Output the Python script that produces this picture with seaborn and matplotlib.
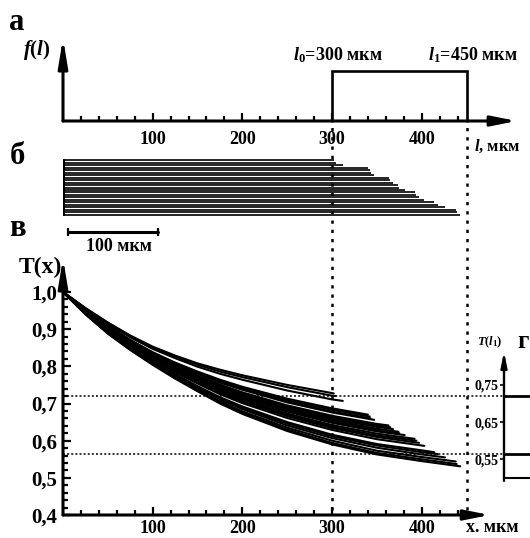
import matplotlib
matplotlib.use("Agg")
import matplotlib.pyplot as plt
import numpy as np
import pandas as pd
import seaborn as sns

sns.set_theme(style="white")
plt.rcParams["font.family"] = ["Liberation Serif", "DejaVu Serif"]
plt.rcParams["font.weight"] = "bold"
plt.rcParams["mathtext.fontset"] = "custom"
plt.rcParams["mathtext.rm"] = "Liberation Serif:bold"
plt.rcParams["mathtext.it"] = "Liberation Serif:italic:bold"
plt.rcParams["mathtext.bf"] = "Liberation Serif:bold"
for key in ("text.color", "axes.labelcolor", "xtick.color", "ytick.color"):
    plt.rcParams[key] = "black"

# ---------------------------------------------------------------- data
# uniform length distribution f(l) between l0 and l1 (micrometres)
l0, l1 = 300, 450
f_level = 1.0

# fibre lengths, shortest first (micrometres)
fiber_lengths = [302, 304, 312, 340, 342, 343, 347, 363, 365, 368, 374, 375,
                 381, 392, 394, 397, 403, 414, 418, 426, 438, 439, 443]

# sampling positions along a fibre; each fibre also has a sample at its own end
x_grid = [0, 25, 50, 75, 100, 125, 150, 175, 200, 250, 300, 350, 400]

# transmission T(x) of every fibre at x_grid (up to its length) and at its end
transmission = [
    [1.0, .957, .918, .883, .853, .829, .808, .791, .776, .750, .728, .727],
    [1.0, .956, .917, .881, .851, .826, .804, .786, .771, .744, .721, .720],
    [1.0, .955, .914, .878, .847, .822, .799, .780, .764, .735, .711, .707],
    [1.0, .952, .909, .871, .838, .810, .786, .764, .745, .713, .687, .670],
    [1.0, .951, .908, .870, .837, .809, .783, .761, .742, .709, .683, .665],
    [1.0, .951, .907, .869, .835, .807, .781, .758, .739, .705, .678, .660],
    [1.0, .951, .907, .868, .834, .805, .780, .756, .737, .703, .676, .656],
    [1.0, .950, .905, .866, .831, .802, .775, .751, .730, .695, .667, .645, .641],
    [1.0, .949, .904, .865, .830, .800, .773, .748, .727, .692, .663, .641, .636],
    [1.0, .949, .903, .864, .829, .798, .771, .746, .724, .688, .659, .637, .631],
    [1.0, .948, .902, .862, .827, .796, .768, .743, .721, .684, .655, .632, .624],
    [1.0, .947, .901, .861, .826, .794, .766, .740, .718, .681, .651, .628, .620],
    [1.0, .947, .901, .860, .825, .793, .765, .738, .716, .678, .648, .625, .615],
    [1.0, .946, .899, .859, .823, .791, .762, .735, .712, .673, .642, .619, .605],
    [1.0, .946, .899, .858, .821, .789, .759, .732, .708, .669, .638, .614, .600],
    [1.0, .945, .898, .856, .820, .787, .757, .729, .705, .666, .634, .610, .594],
    [1.0, .945, .896, .855, .818, .784, .754, .725, .701, .661, .629, .604, .587, .586],
    [1.0, .943, .894, .851, .813, .779, .747, .717, .692, .650, .616, .591, .574, .569],
    [1.0, .943, .893, .850, .812, .777, .745, .715, .689, .646, .612, .587, .569, .564],
    [1.0, .942, .892, .849, .810, .774, .742, .711, .685, .641, .607, .581, .563, .555],
    [1.0, .941, .890, .847, .807, .771, .738, .706, .679, .635, .600, .573, .556, .544],
    [1.0, .941, .889, .845, .806, .769, .735, .703, .675, .630, .594, .567, .550, .537],
    [1.0, .940, .888, .844, .804, .767, .733, .700, .672, .626, .590, .563, .545, .531],
]

# range of T(l) over the distribution, and the base of its histogram
t_levels = [0.72, 0.565]
t_base = 0.50

length_major = [100, 200, 300, 400]
length_minor = [20, 40, 60, 80, 120, 140, 160, 180, 220, 240, 260, 280,
                320, 340, 360, 380, 420, 440]
t_major = [0.4, 0.5, 0.6, 0.7, 0.8, 0.9, 1.0]
t_major_labels = ["0,4", "0,5", "0,6", "0,7", "0,8", "0,9", "1,0"]
t_minor = [0.42, 0.44, 0.46, 0.48, 0.52, 0.54, 0.56, 0.58, 0.62, 0.64, 0.66,
           0.68, 0.72, 0.74, 0.76, 0.78, 0.82, 0.84, 0.86, 0.88, 0.92, 0.94,
           0.96, 0.98]
tl_ticks = [0.55, 0.65, 0.75]
tl_labels = ["0,55", "0,65", "0,75"]
scale_bar_um = 100

# ---------------------------------------------------------------- layout
W, H, DPI = 530, 538, 100
UM = 0.8967      # pixels per micrometre on every length axis
X0 = 63          # pixel column of the length origin
LW_AXIS = 2.2


def rect(x_left, y_top, x_right, y_bottom):
    return [x_left / W, 1 - y_bottom / H, (x_right - x_left) / W, (y_bottom - y_top) / H]


fig = plt.figure(figsize=(W / DPI, H / DPI), dpi=DPI)
fig.patch.set_facecolor("white")


def fig_text(x, y, s, **kw):
    fig.text(x / W, 1 - y / H, s, **kw)


def axis_arrow(ax, start, end, head_len=1.5, head_w=0.3, lw=LW_AXIS):
    ax.annotate("", xy=end, xytext=start, annotation_clip=False,
                arrowprops=dict(arrowstyle=f"-|>,head_length={head_len},head_width={head_w}",
                                color="black", lw=lw, shrinkA=0, shrinkB=0,
                                mutation_scale=10))


def bare(ax):
    for s in ax.spines.values():
        s.set_visible(False)
    ax.set_facecolor("none")


# ---------------------------------------------------------------- (а) f(l)
ax_a = fig.add_axes(rect(X0, 45, X0 + 490 * UM, 121))
bare(ax_a)
ax_a.set_xlim(0, 490)
ax_a.set_ylim(0, 1.52)
ax_a.plot([l0, l0, l1, l1], [0, f_level, f_level, 0], color="black", lw=1.9,
          solid_joinstyle="miter", clip_on=False)
axis_arrow(ax_a, (0, 0), (506, 0))
axis_arrow(ax_a, (0, 0), (0, 1.66), head_len=1.7, head_w=0.28)
ax_a.set_xticks(length_major)
ax_a.set_xticklabels([str(v) for v in length_major])
ax_a.set_xticks(length_minor, minor=True)
ax_a.set_yticks([])
ax_a.tick_params(axis="x", which="major", bottom=True, direction="in", length=6,
                 width=1.6, pad=7, labelsize=13)
ax_a.tick_params(axis="x", which="minor", bottom=True, direction="in", length=3.5,
                 width=1.6)

# ---------------------------------------------------------------- (б) fibres
n = len(fiber_lengths)
ax_b = fig.add_axes(rect(X0, 159, X0 + 490 * UM, 216))
bare(ax_b)
ax_b.set_xlim(0, 490)
ax_b.set_ylim(n - 0.5, -0.5)
ax_b.set_xticks([])
ax_b.set_yticks([])
ax_b.hlines(range(n), 0, fiber_lengths, color="black", lw=1.2)
ax_b.vlines(0, -0.6, n - 0.4, color="black", lw=LW_AXIS)
bar_y = n - 0.5 + 16 / 2.48
cap = 1.6
ax_b.plot([5.5, 5.5 + scale_bar_um], [bar_y, bar_y], color="black", lw=LW_AXIS,
          clip_on=False)
ax_b.vlines([5.5, 5.5 + scale_bar_um], bar_y - cap, bar_y + cap, color="black",
            lw=1.6, clip_on=False)
ax_b.text(5.5 + scale_bar_um / 2 + 7, n - 0.5 + 31 / 2.48, "100 мкм", ha="center",
          va="center", fontsize=13, fontweight="bold", clip_on=False)

# ---------------------------------------------------------------- (в) T(x)
ax_c = fig.add_axes(rect(X0, 292, X0 + 490 * UM, 515))
bare(ax_c)
rows = []
for i, (length, values) in enumerate(zip(fiber_lengths, transmission)):
    xs = [g for g in x_grid if g < length] + [length]
    for xv, tv in zip(xs, values):
        rows.append({"fiber": i, "x": xv, "T": tv})
df = pd.DataFrame(rows)
sns.lineplot(data=df, x="x", y="T", units="fiber", estimator=None, sort=False,
             color="black", lw=1.5, ax=ax_c, legend=False)
ax_c.set_xlabel("")
ax_c.set_ylabel("")
ax_c.set_xlim(0, 490)
ax_c.set_ylim(0.4, 1.0)
axis_arrow(ax_c, (0, 0.4), (476, 0.4))
axis_arrow(ax_c, (0, 0.4), (0, 1.0915), head_len=1.7, head_w=0.28)
ax_c.set_xticks(length_major)
ax_c.set_xticklabels([str(v) for v in length_major])
ax_c.set_xticks(length_minor, minor=True)
ax_c.set_yticks(t_major)
ax_c.set_yticklabels(t_major_labels)
ax_c.set_yticks(t_minor, minor=True)
ax_c.tick_params(axis="x", which="major", bottom=True, direction="in", length=6,
                 width=1.6, pad=3.5, labelsize=13)
ax_c.tick_params(axis="x", which="minor", bottom=True, direction="in", length=3.5,
                 width=1.6)
ax_c.tick_params(axis="y", which="major", left=True, direction="in", length=6,
                 width=1.6, pad=4, labelsize=15)
ax_c.tick_params(axis="y", which="minor", left=True, direction="in", length=3.5,
                 width=1.6)

# dotted guides: T(l0), T(l1) across, l0 and l1 down through all panels
ax_c.hlines(t_levels, 0, (504 - X0) / UM, color="black", lw=1.1,
            linestyles=[(0, (1.3, 1.4))], clip_on=False)
ax_c.vlines([l0, l1], 0.413, 1.449, color="black", lw=1.8,
            linestyles=[(0, (1.3, 2.4))], clip_on=False)

# ---------------------------------------------------------------- (г) T(l)
ax_d = fig.add_axes(rect(504, 292, 620, 515))
bare(ax_d)
ax_d.set_xlim(0, 1)
ax_d.set_ylim(0.4, 1.0)
ax_d.hlines(t_levels, 0, 1, color="black", lw=2.0, clip_on=False)
ax_d.hlines(t_base, 0, 1, color="black", lw=1.5, clip_on=False)
axis_arrow(ax_d, (0, 0.492), (0, 0.84), head_len=0.9, head_w=0.18, lw=1.7)
ax_d.set_xticks([])
ax_d.set_yticks(tl_ticks)
ax_d.set_yticklabels(tl_labels)
ax_d.tick_params(axis="y", left=True, direction="out", length=3, width=1.2,
                 pad=1, labelsize=10)

# ---------------------------------------------------------------- labels
fig_text(17, 22, "а", fontsize=22, fontweight="bold", ha="center", va="center")
fig_text(17, 156, "б", fontsize=22, fontweight="bold", ha="center", va="center")
fig_text(17, 229, "в", fontsize=22, fontweight="bold", ha="center", va="center")
fig_text(529, 341, "г", fontsize=18, fontweight="bold", ha="right", va="center")
fig_text(37, 50, "$f(l)$", fontsize=15, ha="center", va="center")
fig_text(293, 55, "$l_0$=300 мкм", fontsize=13, ha="left", va="center")
fig_text(428, 55, "$l_1$=450 мкм", fontsize=13, ha="left", va="center")
fig_text(474, 146, "$l$, мкм", fontsize=12, ha="left", va="center")
fig_text(40, 267, "T(x)", fontsize=17, fontweight="bold", ha="center", va="center")
fig_text(466, 527, "x. мкм", fontsize=13, fontweight="bold", ha="left", va="center")
fig_text(503, 342, "$T(l_1)$", fontsize=9, ha="right", va="center")

fig.savefig("out.png", dpi=DPI)
